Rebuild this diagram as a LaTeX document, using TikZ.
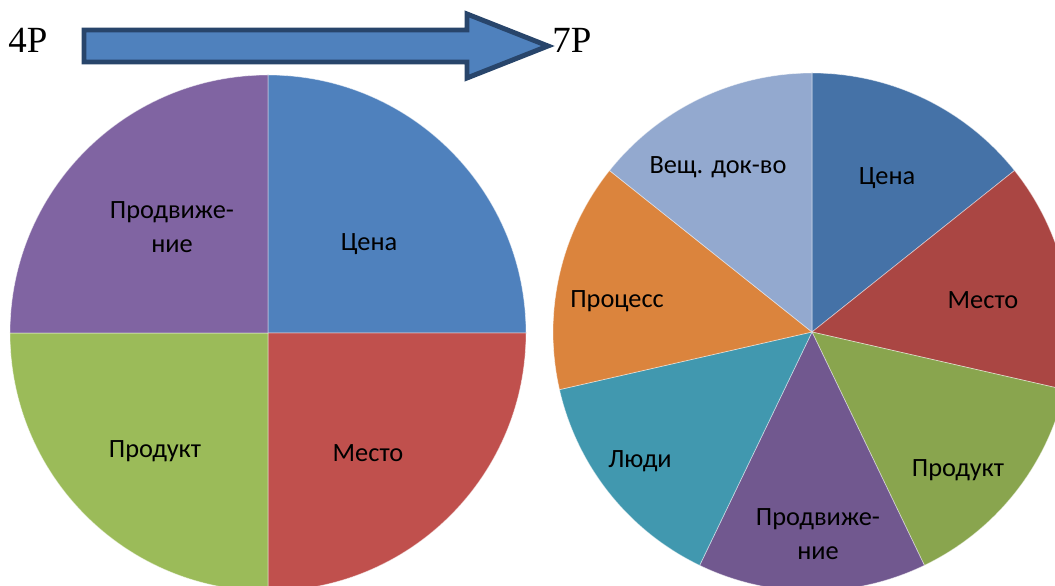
\documentclass[tikz,border=0pt]{standalone}
\usepackage{fontspec}
\setmainfont{Liberation Serif}
\newfontfamily\lblfont{Carlito}
\definecolor{cBlue}{HTML}{4F81BD}
\definecolor{cRed}{HTML}{C0504D}
\definecolor{cGreen}{HTML}{9BBB59}
\definecolor{cPurple}{HTML}{8064A2}
\definecolor{dBlue}{HTML}{4572A7}
\definecolor{dRed}{HTML}{AA4643}
\definecolor{dGreen}{HTML}{89A54E}
\definecolor{dPurple}{HTML}{71588F}
\definecolor{dTeal}{HTML}{4198AF}
\definecolor{dOrange}{HTML}{DB843D}
\definecolor{dLight}{HTML}{93A9CF}
\definecolor{arrowEdge}{HTML}{28456B}

\begin{document}
\begin{tikzpicture}[slice/.style={draw=white,draw opacity=.5,line width=.4pt},
  lbl/.style={font=\lblfont\fontsize{15}{19}\selectfont,align=center,inner sep=0pt},
  title/.style={font=\fontsize{21}{24}\selectfont,anchor=base west,inner sep=0pt}]
\clip (0,0) rectangle (21.1,11.72);
\fill[white] (0,0) rectangle (21.1,11.72);
% 4P
\path[slice,fill=cBlue] (5.36,5.06) -- ++(90:5.16) arc[start angle=90,end angle=0,radius=5.16] -- cycle;
\path[slice,fill=cRed] (5.36,5.06) -- ++(0:5.16) arc[start angle=0,end angle=-90,radius=5.16] -- cycle;
\path[slice,fill=cGreen] (5.36,5.06) -- ++(-90:5.16) arc[start angle=-90,end angle=-180,radius=5.16] -- cycle;
\path[slice,fill=cPurple] (5.36,5.06) -- ++(180:5.16) arc[start angle=180,end angle=90,radius=5.16] -- cycle;
\node[lbl] (lPrice) at (7.38,6.84) {Цена};
\node[lbl] (lPlace) at (7.36,2.66) {Место};
\node[lbl] (lProduct) at (3.10,2.70) {Продукт};
\node[lbl] (lPromo) at (3.44,7.18) {Продвиже-\\ние};
% 7P
\path[slice,fill=dBlue] (16.24,5.08) -- ++(90:5.18) arc[start angle=90,end angle=38.571,radius=5.18] -- cycle;
\path[slice,fill=dRed] (16.24,5.08) -- ++(38.571:5.18) arc[start angle=38.571,end angle=-12.857,radius=5.18] -- cycle;
\path[slice,fill=dGreen] (16.24,5.08) -- ++(-12.857:5.18) arc[start angle=-12.857,end angle=-64.286,radius=5.18] -- cycle;
\path[slice,fill=dPurple] (16.24,5.08) -- ++(-64.286:5.18) arc[start angle=-64.286,end angle=-115.714,radius=5.18] -- cycle;
\path[slice,fill=dTeal] (16.24,5.08) -- ++(-115.714:5.18) arc[start angle=-115.714,end angle=-167.143,radius=5.18] -- cycle;
\path[slice,fill=dOrange] (16.24,5.08) -- ++(-167.143:5.18) arc[start angle=-167.143,end angle=-218.571,radius=5.18] -- cycle;
\path[slice,fill=dLight] (16.24,5.08) -- ++(141.429:5.18) arc[start angle=141.429,end angle=90,radius=5.18] -- cycle;
\node[lbl] (rPrice) at (17.74,8.16) {Цена};
\node[lbl] (rPlace) at (19.66,5.72) {Место};
\node[lbl] (rProduct) at (19.16,2.32) {Продукт};
\node[lbl] (rPromo) at (16.36,1.04) {Продвиже-\\ние};
\node[lbl] (rPeople) at (12.80,2.50) {Люди};
\node[lbl] (rProcess) at (12.34,5.70) {Процесс};
\node[lbl] (rEvidence) at (14.36,8.38) {Вещ. док-во};
% block arrow
\path[fill=cBlue,draw=arrowEdge,line width=2.8pt] (1.68,11.12) -- (9.34,11.12) -- (9.34,11.44) -- (10.96,10.80) -- (9.34,10.16) -- (9.34,10.48) -- (1.68,10.48) -- cycle;
\node[title] (four) at (0.16,10.66) {4P};
\node[title] (seven) at (11.04,10.66) {7P};
\end{tikzpicture}
\end{document}
